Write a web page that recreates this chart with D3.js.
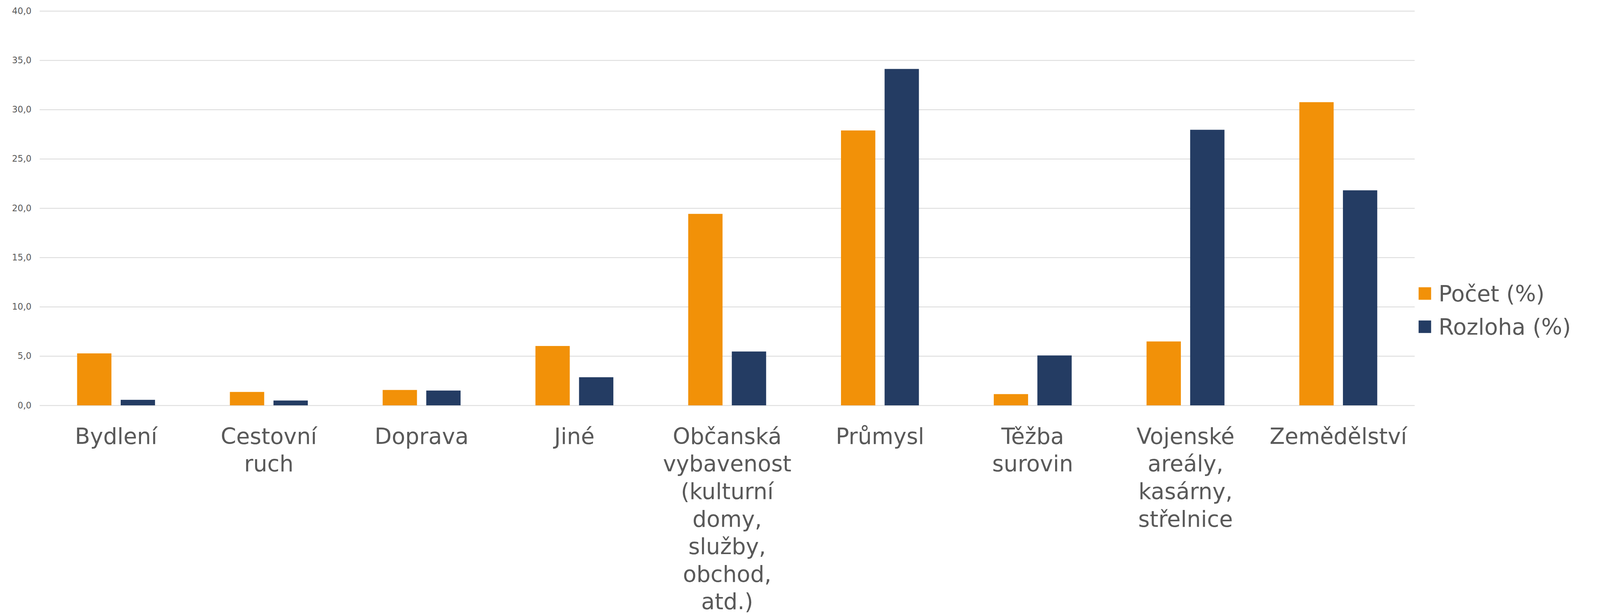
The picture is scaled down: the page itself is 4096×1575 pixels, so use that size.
<!DOCTYPE html>
<html>
<head>
<meta charset="utf-8">
<script src="https://cdn.jsdelivr.net/npm/d3@7/dist/d3.min.js"></script>
<style>
  html, body { margin: 0; padding: 0; background: #fff; }
  svg { display: block; }
</style>
</head>
<body>
<svg id="chart" width="4096" height="1575"></svg>
<script>
// ---- data ----
const categories = [
  "Bydlení",
  "Cestovní ruch",
  "Doprava",
  "Jiné",
  "Občanská vybavenost (kulturní domy, služby, obchod, atd.)",
  "Průmysl",
  "Těžba surovin",
  "Vojenské areály, kasárny, střelnice",
  "Zemědělství"
];
const pocet   = [5.27, 1.36, 1.56, 6.02, 19.42, 27.88, 1.14, 6.48, 30.75];
const rozloha = [0.56, 0.49, 1.50, 2.85, 5.46, 34.12, 5.06, 27.95, 21.81];
const seriesNames = ["Počet (%)", "Rozloha (%)"];
const yTicks = [0, 5, 10, 15, 20, 25, 30, 35, 40];

// ---- styles ----
const colors = ["#F29108", "#243C63"];
const textColor = "#595959";
const gridColor = "#D9D9D9";
const font = "'DejaVu Sans', Verdana, sans-serif";

const svg = d3.select("#chart");
const root = svg.append("g").attr("transform", "scale(0.915)");

// layout in reference coordinates (4476 x 1721)
const plotLeft = 111, plotRight = 3958, plotTop = 30.7, plotBottom = 1134.5;

const x = d3.scaleBand().domain(categories).range([plotLeft, plotRight])
  .paddingInner(0.49).paddingOuter(0.245);
const xs = d3.scaleBand().domain([0, 1]).range([0, x.bandwidth()]).paddingInner(0.213);
const y = d3.scaleLinear().domain([0, 40]).range([plotBottom, plotTop]);

const fmt = v => d3.format(".1f")(v).replace(".", ",");

// y axis with gridlines
const yAxis = root.append("g")
  .attr("transform", `translate(${plotLeft},0)`)
  .call(d3.axisLeft(y).tickValues(yTicks).tickSize(-(plotRight - plotLeft)).tickPadding(23).tickFormat(fmt));
yAxis.select(".domain").remove();
yAxis.selectAll(".tick line").attr("stroke", gridColor).attr("stroke-width", 2.2);
yAxis.selectAll(".tick text")
  .attr("fill", textColor)
  .attr("font-family", font)
  .attr("font-size", 24.5);

// bars
const rows = categories.map((c, i) => ({ cat: c, vals: [pocet[i], rozloha[i]] }));
const groups = root.append("g").selectAll("g")
  .data(rows).join("g")
  .attr("transform", d => `translate(${x(d.cat)},0)`);
groups.selectAll("rect")
  .data(d => d.vals.map((v, s) => ({ v, s })))
  .join("rect")
  .attr("x", d => xs(d.s))
  .attr("width", xs.bandwidth())
  .attr("y", d => y(d.v))
  .attr("height", d => y(0) - y(d.v))
  .attr("fill", d => colors[d.s]);

// x axis labels
const xAxis = root.append("g")
  .attr("transform", `translate(0,${plotBottom})`)
  .call(d3.axisBottom(x).tickSize(0).tickSizeOuter(0));
xAxis.select(".domain").remove();
xAxis.selectAll(".tick text").each(function(d) {
  const t = d3.select(this);
  t.text(null).attr("y", 0).attr("dy", null)
    .attr("fill", textColor)
    .attr("font-family", font)
    .attr("font-size", 62)
    .attr("text-anchor", "middle");
  d.split(" ").forEach((w, i) => {
    t.append("tspan").attr("x", 0).attr("y", 108 + i * 77.1).text(w);
  });
});

// legend
const legend = root.append("g").selectAll("g")
  .data(seriesNames).join("g")
  .attr("transform", (d, i) => `translate(3969,${804 + i * 93})`);
legend.append("rect")
  .attr("width", 35).attr("height", 35)
  .attr("fill", (d, i) => colors[i]);
legend.append("text")
  .attr("x", 56).attr("y", 40)
  .attr("fill", textColor)
  .attr("font-family", font)
  .attr("font-size", 62)
  .text(d => d);
</script>
</body>
</html>
